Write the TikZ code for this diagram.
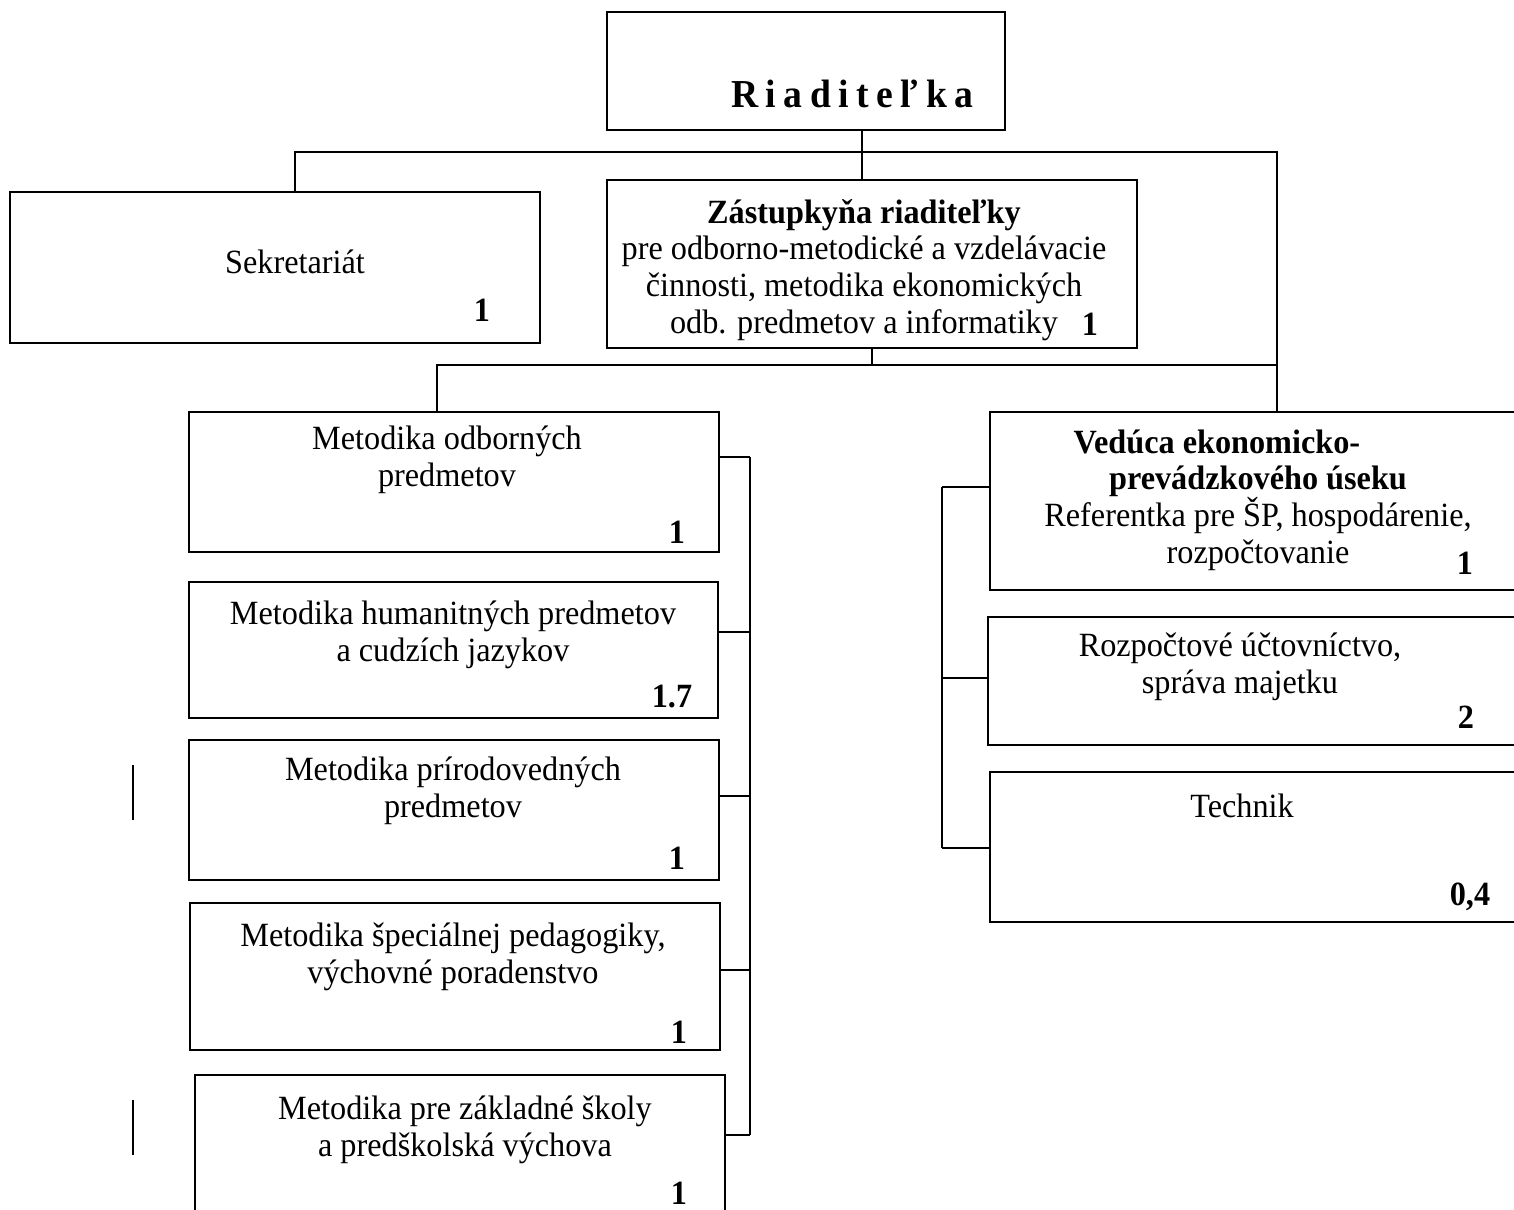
\documentclass[tikz,border=0pt]{standalone}
\usepackage{fontspec}
\setmainfont{Liberation Serif}[FakeStretch=0.95]
\newcommand{\chartUnit}[0]{0.3534pt}
\newcommand{\staff}[1]{\textbf{#1}}

\begin{document}
\begin{tikzpicture}[x=\chartUnit, y=-\chartUnit, line width=0.7pt, font=\fontsize{12}{13}\selectfont]
  \tikzset{orgbox/.style={draw, inner sep=0pt, minimum width=530*\chartUnit},
    orgtext/.style={align=center, inner sep=0pt}}
  \useasboundingbox (0,0) rectangle (1514,1209);
  \clip (0,0) rectangle (1514,1209);

  % vedenie
  \node[orgbox, minimum width=398*\chartUnit, minimum height=118*\chartUnit] (rd) at (806,71) {};
  \node[orgtext, font=\fontsize{14}{16}\selectfont\addfontfeature{LetterSpace=19}] (rdT) at (856,94) {\textbf{Riaditeľka}};
  \node[orgbox, minimum height=151*\chartUnit] (sekr) at (275,267.5) {};
  \node[orgtext] (sekrT) at (295,262) {Sekretariát};
  \node (sekrN) at (482,310) {\staff{1}};
  \node[orgbox, minimum height=168*\chartUnit] (zast) at (872,264) {};
  \node[orgtext] (zastT) at (864,270) {\textbf{Zástupkyňa riaditeľky}\\pre odborno-metodické a vzdelávacie\\činnosti, metodika ekonomických\\odb. predmetov a informatiky};
  \node (zastN) at (1090,324) {\staff{1}};

  % metodici
  \node[orgbox, minimum height=140*\chartUnit] (odb) at (454,482) {};
  \node[orgtext] (odbT) at (447,460) {Metodika odborných\\predmetov};
  \node (odbN) at (677,532) {\staff{1}};
  \node[orgbox, minimum width=529*\chartUnit, minimum height=136*\chartUnit] (hum) at (453.5,650) {};
  \node[orgtext] (humT) at (453,635) {Metodika humanitných predmetov\\a cudzích jazykov};
  \node (humN) at (672,697) {\staff{1.7}};
  \node[orgbox, minimum height=140*\chartUnit] (pri) at (454,810) {};
  \node[orgtext] (priT) at (453,791) {Metodika prírodovedných\\predmetov};
  \node (priN) at (677,858) {\staff{1}};
  \node[orgbox, minimum height=147*\chartUnit] (spe) at (455,976.5) {};
  \node[orgtext] (speT) at (453,957) {Metodika špeciálnej pedagogiky,\\výchovné poradenstvo};
  \node (speN) at (679,1032) {\staff{1}};
  \node[orgbox, minimum height=185*\chartUnit] (zak) at (460,1167.5) {};
  \node[orgtext] (zakT) at (465,1130) {Metodika pre základné školy\\a predškolská výchova};
  \node (zakN) at (679,1193) {\staff{1}};

  % ekonomicko-prevadzkovy usek
  \node[orgbox, minimum height=178*\chartUnit] (ved) at (1255,501) {};
  \node[orgtext] (vedT) at (1258,500) {\textbf{Vedúca ekonomicko-}\hspace*{29pt}\\\textbf{prevádzkového úseku}\\Referentka pre ŠP, hospodárenie,\\rozpočtovanie};
  \node (vedN) at (1465,563) {\staff{1}};
  \node[orgbox, minimum height=128*\chartUnit] (roz) at (1253,681) {};
  \node[orgtext] (rozT) at (1240,667) {Rozpočtové účtovníctvo,\\správa majetku};
  \node (rozN) at (1466,717) {\staff{2}};
  \node[orgbox, minimum height=150*\chartUnit] (tech) at (1255,847) {};
  \node[orgtext] (techT) at (1242,806) {Technik};
  \node (techN) at (1470,897) {\staff{0,4}};

  % spojnice
  \coordinate (topL) at (295,152);
  \coordinate (topM) at (862,152);
  \coordinate (topR) at (1277,152);
  \coordinate (midL) at (437,365);
  \draw (topL |- sekr.north) -- (topL) -- (topR) -- (topR |- ved.north);
  \draw (topM |- rd.south) -- (topM |- zast.north);
  \draw (zast.south) -- (zast.south |- midL);
  \draw (midL |- odb.north) -- (midL) -- (midL -| topR);
  \draw (750,457) -- (750,1135);
  \foreach \b/\y in {odb/457, hum/632, pri/796, spe/970, zak/1135}
    \draw (\b.east |- 0,\y) -- (750,\y);
  \draw (942,487) -- (942,848);
  \foreach \b/\y in {ved/487, roz/678, tech/848}
    \draw (\b.west |- 0,\y) -- (942,\y);
  \draw (133,765) -- (133,820);
  \draw (133,1100) -- (133,1155);
\end{tikzpicture}
\end{document}
